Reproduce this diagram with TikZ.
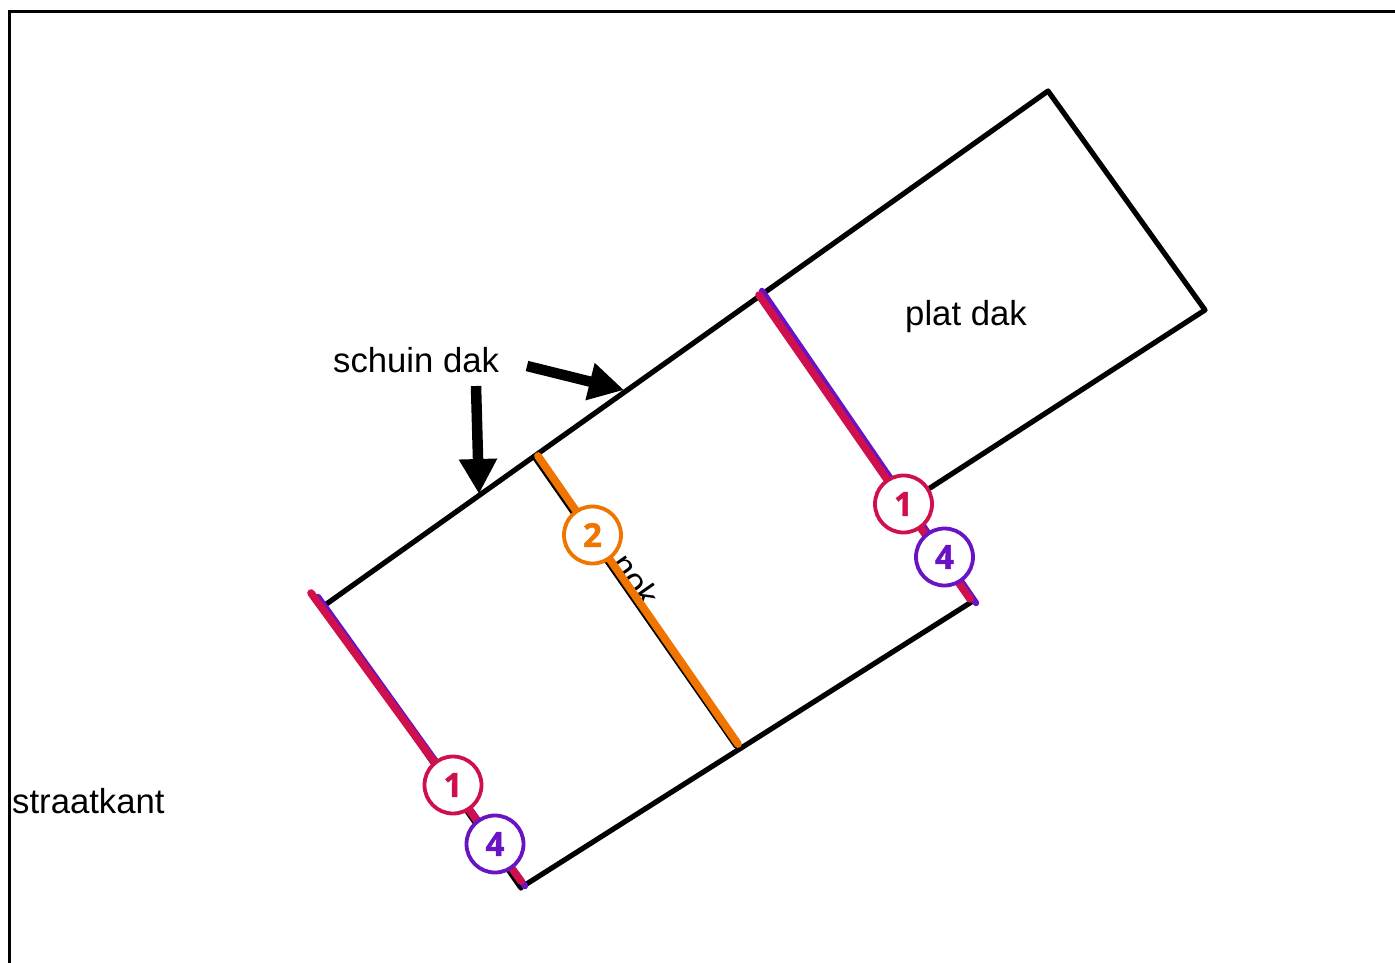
\documentclass[tikz,border=0pt]{standalone}
\usepackage{fontspec}
\setmainfont{Liberation Sans}
\newfontfamily\badgefont[BoldFeatures={FakeBold=1.5}]{Open Sans}
\usetikzlibrary{arrows.meta}
\definecolor{crim}{HTML}{D0104C}
\definecolor{viol}{HTML}{6A13C4}
\definecolor{oran}{HTML}{F07400}
\tikzset{
  x=1pt,y=-1pt,
  wall/.style={draw=black,line width=5.2pt,line cap=round,line join=round},
  frameline/.style={draw=black,line width=3.2pt},
  redline/.style={draw=crim,line width=7.6pt,line cap=round},
  violine/.style={draw=viol,line width=6.4pt,line cap=round},
  orline/.style={draw=oran,line width=7.8pt,line cap=round},
  pointer/.style={draw=black,line width=10.5pt,-{Triangle[width=36pt,length=35pt]}},
  label/.style={inner sep=0pt,font=\fontsize{34.7}{40}\selectfont,text=black},
  badge/.style={circle,draw=#1,fill=white,line width=3.8pt,minimum size=57pt,inner sep=0pt,text=#1,font=\badgefont\bfseries\fontsize{33}{36}\selectfont},
}
\begin{document}
\begin{tikzpicture}
\useasboundingbox (0,0) rectangle (1395,963);
\fill[white] (0,0) rectangle (1395,963);
\coordinate (ftr) at (1395,11.5);
\coordinate (ftl) at (9.5,11.5);
\coordinate (fbl) at (9.5,963);
\draw[frameline] (ftr) -- (ftl) -- (fbl);
\coordinate (a) at (322,605);
\coordinate (a2) at (325,605);
\coordinate (b) at (1048,91);
\coordinate (c) at (1205,310);
\coordinate (d) at (930,488);
\coordinate (e) at (973,601);
\coordinate (f) at (521,888);
\coordinate (f2) at (525,885);
\coordinate (g) at (761,294);
\coordinate (h) at (535,458);
\coordinate (i) at (736,746);
\node[label,rotate=-55] (nok) at (636,580) {nok};
\draw[wall] (a2) -- (b) -- (c) -- (d);
\draw[wall] (e) -- (f2);
\draw[wall] (f) -- (a);
\draw[wall] (g) -- (e);
\draw[wall] (h) -- (i);
\coordinate (v1a) at (318,597);
\coordinate (v1b) at (525,886);
\coordinate (r1a) at (311,593);
\coordinate (r1b) at (521,881);
\coordinate (v2a) at (762,291);
\coordinate (v2b) at (976,603);
\coordinate (r2a) at (759,295);
\coordinate (r2b) at (970,599);
\coordinate (o1) at (538,456);
\coordinate (o2) at (738,744);
\draw[violine] (v1a) -- (v1b);
\draw[redline] (r1a) -- (r1b);
\draw[violine] (v2a) -- (v2b);
\draw[redline] (r2a) -- (r2b);
\draw[orline] (o1) -- (o2);
\node[badge=crim] (n1a) at (453,785) {1};
\node[badge=viol] (n4a) at (495,844) {4};
\node[badge=crim] (n1b) at (903.5,504) {1};
\node[badge=viol] (n4b) at (944.5,557) {4};
\node[badge=oran] (n2) at (592.5,535) {2};
\node[label,anchor=base west] (schuin) at (333,372) {schuin dak};
\node[label,anchor=base west] (plat) at (905,325) {plat dak};
\node[label,anchor=base west] (straat) at (12,813) {straatkant};
\coordinate (p1a) at (476,386);
\coordinate (p1b) at (479,494);
\coordinate (p2a) at (527,366);
\coordinate (p2b) at (624,390);
\draw[pointer] (p1a) -- (p1b);
\draw[pointer] (p2a) -- (p2b);
\end{tikzpicture}
\end{document}
